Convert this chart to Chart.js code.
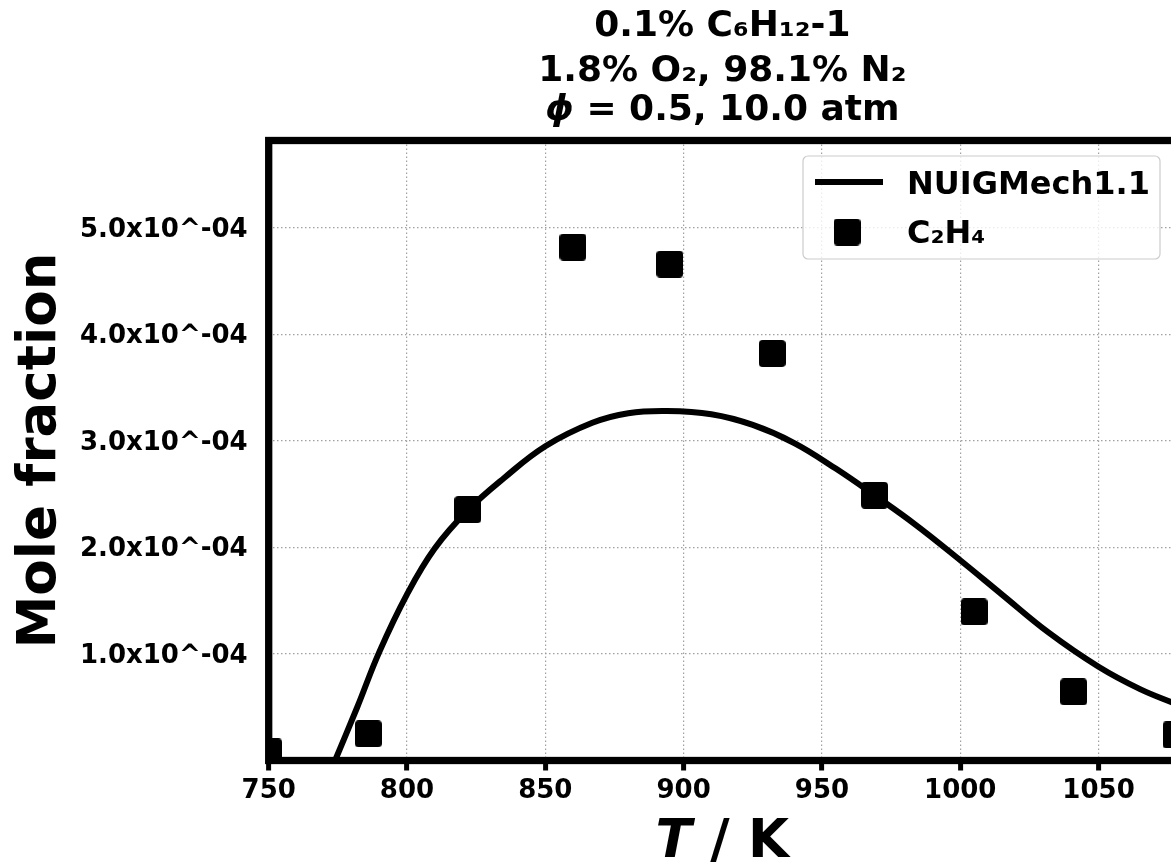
<!DOCTYPE html>
<html>
<head>
<meta charset="utf-8">
<script src="https://cdn.jsdelivr.net/npm/chart.js@4.4.1/dist/chart.umd.min.js"></script>
<style>
  html, body { margin: 0; padding: 0; background: #fff; overflow: hidden; }
  #wrap { position: relative; width: 1200px; height: 867px; }
</style>
</head>
<body>
<div id="wrap"><canvas id="chart"></canvas></div>
<script>
// measured C2H4 mole fractions
const expT = [750, 786, 822, 860, 895, 932, 969, 1005, 1041, 1078];
const expC2H4 = [0.08e-4, 0.25e-4, 2.355e-4, 4.82e-4, 4.66e-4, 3.82e-4, 2.49e-4, 1.395e-4, 0.644e-4, 0.24e-4];

// NUIGMech1.1 simulation
const simT = [770, 774, 782, 790, 800, 810, 822, 835, 850, 867, 880, 894, 910, 925, 940, 955, 969, 984, 1000, 1015, 1032, 1050, 1065, 1078];
const simC2H4 = [-0.25e-4, 0, 0.5e-4, 1.02e-4, 1.56e-4, 1.99e-4, 2.35e-4, 2.65e-4, 2.95e-4, 3.17e-4, 3.26e-4, 3.28e-4, 3.25e-4, 3.15e-4, 2.98e-4, 2.74e-4, 2.49e-4, 2.21e-4, 1.88e-4, 1.56e-4, 1.2e-4, 0.88e-4, 0.67e-4, 0.53e-4];

const xTicksStep = 50;
const yTicksStep = 1e-4;
const titleLines = ["0.1% C\u2086H\u2081\u2082-1", "1.8% O\u2082, 98.1% N\u2082"];
const legendLabels = ["NUIGMech1.1", "C\u2082H\u2084"];

const FONT = "'DejaVu Sans', 'Liberation Sans', sans-serif";

// rounded square marker like matplotlib's 's'
const squareImg = document.createElement("canvas");
squareImg.width = 27;
squareImg.height = 27;
(function () {
  const c = squareImg.getContext("2d");
  c.fillStyle = "#000";
  c.beginPath();
  c.roundRect(0, 0, 27, 27, 4);
  c.fill();
})();

function drawParts(ctx, parts, cx, y) {
  let total = 0;
  parts.forEach(([t, f]) => { ctx.font = f; total += ctx.measureText(t).width; });
  let x = cx - total / 2;
  ctx.textAlign = "left";
  ctx.textBaseline = "alphabetic";
  parts.forEach(([t, f]) => {
    ctx.font = f;
    ctx.fillText(t, x, y);
    x += ctx.measureText(t).width;
  });
}

const decorPlugin = {
  id: "decor",
  afterDatasetsDraw(chart) {
    const { ctx, chartArea: a } = chart;
    ctx.save();
    ctx.strokeStyle = "#000";
    ctx.lineWidth = 7.3;
    ctx.strokeRect(a.left, a.top, a.right - a.left, a.bottom - a.top);
    ctx.restore();
  },
  afterDraw(chart) {
    const { ctx, chartArea: a } = chart;
    const cx = (a.left + a.right) / 2;
    ctx.save();
    ctx.fillStyle = "#000";

    // title
    drawParts(ctx, [[titleLines[0], `bold 36px ${FONT}`]], cx, 36);
    drawParts(ctx, [[titleLines[1], `bold 36px ${FONT}`]], cx, 81);
    drawParts(ctx, [["\u03d5", `italic bold 36px ${FONT}`], [" = 0.5, 10.0 atm", `bold 36px ${FONT}`]], cx, 120);

    // axis titles
    drawParts(ctx, [["T", `italic bold 53px ${FONT}`], [" / K", `bold 53px ${FONT}`]], cx, 857);
    ctx.save();
    ctx.translate(55, (a.top + a.bottom) / 2);
    ctx.rotate(-Math.PI / 2);
    ctx.font = `bold 53px ${FONT}`;
    ctx.textAlign = "center";
    ctx.textBaseline = "alphabetic";
    ctx.fillText("Mole fraction", 0, 0);
    ctx.restore();

    // legend
    const bx = a.right - 373, by = a.top + 15.5, bw = 357, bh = 103;
    ctx.beginPath();
    ctx.roundRect(bx, by, bw, bh, 5);
    ctx.fillStyle = "rgba(255,255,255,0.8)";
    ctx.fill();
    ctx.strokeStyle = "#cccccc";
    ctx.lineWidth = 1.2;
    ctx.stroke();

    ctx.beginPath();
    ctx.moveTo(bx + 12, by + 26);
    ctx.lineTo(bx + 80, by + 26);
    ctx.strokeStyle = "#000";
    ctx.lineWidth = 6;
    ctx.stroke();
    ctx.drawImage(squareImg, bx + 44 - 13.5, by + 76 - 13.5);

    ctx.fillStyle = "#000";
    ctx.font = `bold 32px ${FONT}`;
    ctx.textAlign = "left";
    ctx.textBaseline = "alphabetic";
    ctx.fillText(legendLabels[0], bx + 104, by + 38);
    ctx.fillText(legendLabels[1], bx + 104, by + 87);
    ctx.restore();
  }
};

const gridStyle = {
  color: "rgba(150,150,150,0.9)",
  lineWidth: 1.2,
};
const dottedBorder = { display: false, dash: [1.5, 2.5] };

new Chart(document.getElementById("chart"), {
  type: "line",
  data: {
    datasets: [
      {
        label: legendLabels[1],
        data: expT.map((t, i) => ({ x: t, y: expC2H4[i] })),
        showLine: false,
        pointStyle: squareImg,
        pointRadius: 13,
        pointHoverRadius: 13,
      },
      {
        label: legendLabels[0],
        data: simT.map((t, i) => ({ x: t, y: simC2H4[i] })),
        borderColor: "#000",
        borderWidth: 6,
        borderJoinStyle: "round",
        pointRadius: 0,
        pointHoverRadius: 0,
        tension: 0.4,
        fill: false,
      },
    ],
  },
  options: {
    responsive: true,
    maintainAspectRatio: false,
    animation: false,
    devicePixelRatio: 1,
    layout: { padding: { top: 140.5, right: 24, left: 0, bottom: 0 } },
    plugins: {
      legend: { display: false },
      tooltip: { enabled: false },
      title: { display: false },
    },
    scales: {
      x: {
        type: "linear",
        min: 750,
        max: 1078,
        afterFit: (s) => { s.height = 106.5; },
        border: dottedBorder,
        grid: {
          ...gridStyle,
          drawTicks: true,
          tickLength: 10,
          tickWidth: 5,
          tickColor: "#000",
          tickBorderDash: [],
        },
        ticks: {
          stepSize: xTicksStep,
          includeBounds: false,
          autoSkip: false,
          maxRotation: 0,
          padding: 5,
          color: "#000",
          font: { family: FONT, size: 26, weight: "bold" },
          callback: (v) => String(v),
        },
      },
      y: {
        type: "linear",
        min: 0,
        max: 5.82e-4,
        afterFit: (s) => { s.width = 268.7; },
        border: dottedBorder,
        grid: { ...gridStyle, drawTicks: false },
        ticks: {
          stepSize: yTicksStep,
          includeBounds: false,
          padding: 21,
          labelOffset: 2,
          color: "#000",
          font: { family: FONT, size: 26, weight: "bold" },
          callback: (v) => (Math.abs(v) < 1e-12 ? "" : (v / 1e-4).toFixed(1) + "x10^-04"),
        },
      },
    },
  },
  plugins: [decorPlugin],
});
</script>
</body>
</html>
